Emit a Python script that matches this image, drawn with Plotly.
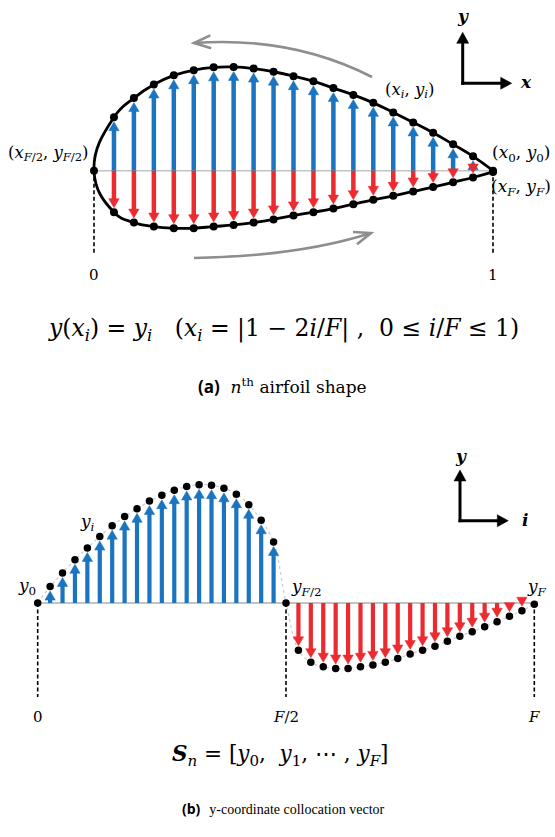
import math
import plotly.graph_objects as go

W, H = 555, 837

# ---------------- data ----------------
F = 40
i_index = list(range(F + 1))
# y-coordinates y_i of the n-th airfoil (chord units), i = 0 .. F
y_coord = [0.000, 0.036, 0.066, 0.095, 0.121, 0.146, 0.170, 0.190, 0.207, 0.224, 0.237,
           0.248, 0.256, 0.260, 0.259, 0.252, 0.239, 0.216, 0.182, 0.134, 0.000,
           -0.104, -0.130, -0.140, -0.144, -0.144, -0.140, -0.136, -0.130, -0.122, -0.112,
           -0.104, -0.095, -0.084, -0.073, -0.063, -0.052, -0.041, -0.029, -0.017, -0.003]
# x_i = |1 - 2i/F|
x_coord = [abs(1 - 2 * i / F) for i in i_index]
top_tick_vals = [0, 1]
top_tick_text = ["0", "1"]
bot_tick_vals = [0, F // 2, F]
bot_tick_text = ["0", "<i>F</i>/2", "<i>F</i>"]

# ---------------- style / layout constants ----------------
BLUE = "#1b74bf"
RED = "#ec2b30"
GRAY = "#c3c3c3"
ARROWGRAY = "#8e8e8e"
MATH = "DejaVu Serif"

# pixel geometry of the two panels
TOP_X0, TOP_SX, TOP_Y0, TOP_SY = 94.0, 399.0, 170.7, 399.0
BOT_X0, BOT_SX, BOT_Y0, BOT_SY = 37.7, 12.415, 603.0, 455.0

GAP, HEAD_L, HEAD_HW = 4.5, 9.0, 5.2   # arrow styling in pixels


def px(x):
    return x / W


def py(y):
    return 1 - y / H


def top_y(pix):
    return (TOP_Y0 - pix) / TOP_SY


def bot_y(pix):
    return (BOT_Y0 - pix) / BOT_SY


fig = go.Figure()


def add_vectors(xs, ys, sx, sy, xa, ya, color, width):
    """Arrows from the base line (y=0) toward each point, stopping short of the dot."""
    shx, shy, hx, hy = [], [], [], []
    for xv, yv in zip(xs, ys):
        sgn = 1 if yv > 0 else -1
        tip = yv - sgn * GAP / sy
        base = tip - sgn * HEAD_L / sy
        hw = HEAD_HW / sx
        if sgn * base > 0:
            shx += [xv, xv, None]
            shy += [0, base + sgn * 0.8 / sy, None]
        hx += [xv - hw, xv + hw, xv, xv - hw, None]
        hy += [base, base, tip, base, None]
    fig.add_trace(go.Scatter(x=shx, y=shy, mode="lines", line=dict(color=color, width=width),
                             xaxis=xa, yaxis=ya, hoverinfo="skip"))
    fig.add_trace(go.Scatter(x=hx, y=hy, mode="lines", fill="toself", fillcolor=color,
                             line=dict(color=color, width=0.5),
                             xaxis=xa, yaxis=ya, hoverinfo="skip"))


upper = [i for i in i_index if 0 < i < F // 2]
lower = [i for i in i_index if F // 2 < i < F]

# ---------------- panel (a) ----------------
fig.add_trace(go.Scatter(x=[x_coord[F // 2], x_coord[0]], y=[0, 0], mode="lines",
                         line=dict(color=GRAY, width=1.6), xaxis="x", yaxis="y",
                         hoverinfo="skip"))
fig.add_trace(go.Scatter(x=[x_coord[F // 2], x_coord[F // 2], None, x_coord[0], x_coord[0]],
                         y=[0, top_y(253), None, 0, top_y(253)], mode="lines",
                         line=dict(color="black", width=1.6, dash="4px,2.5px"),
                         xaxis="x", yaxis="y", hoverinfo="skip"))
add_vectors([x_coord[i] for i in upper], [y_coord[i] for i in upper],
            TOP_SX, TOP_SY, "x", "y", BLUE, 4.5)
add_vectors([x_coord[i] for i in lower], [y_coord[i] for i in lower],
            TOP_SX, TOP_SY, "x", "y", RED, 4.5)
fig.add_trace(go.Scatter(x=x_coord, y=y_coord, mode="lines",
                         line=dict(color="black", width=2.8, shape="spline", smoothing=1.3),
                         xaxis="x", yaxis="y", hoverinfo="skip"))
fig.add_trace(go.Scatter(x=x_coord, y=y_coord, mode="markers",
                         marker=dict(color="black", size=8),
                         xaxis="x", yaxis="y", hoverinfo="skip"))

# ---------------- panel (b) ----------------
fig.add_trace(go.Scatter(x=[i_index[0], i_index[-1]], y=[0, 0], mode="lines",
                         line=dict(color=GRAY, width=2), xaxis="x2", yaxis="y2",
                         hoverinfo="skip"))
fig.add_trace(go.Scatter(x=i_index, y=y_coord, mode="lines",
                         line=dict(color="#cfcfcf", width=1.3, dash="dot", shape="spline"),
                         xaxis="x2", yaxis="y2", hoverinfo="skip"))
dx, dy = [], []
for v in bot_tick_vals:
    dx += [v, v, None]
    dy += [0, bot_y(697), None]
fig.add_trace(go.Scatter(x=dx, y=dy, mode="lines",
                         line=dict(color="black", width=1.6, dash="4px,2.5px"),
                         xaxis="x2", yaxis="y2", hoverinfo="skip"))
add_vectors([i_index[i] for i in upper], [y_coord[i] for i in upper],
            BOT_SX, BOT_SY, "x2", "y2", BLUE, 4.2)
add_vectors([i_index[i] for i in lower], [y_coord[i] for i in lower],
            BOT_SX, BOT_SY, "x2", "y2", RED, 4.2)
fig.add_trace(go.Scatter(x=i_index, y=y_coord, mode="markers",
                         marker=dict(color="black", size=7.5),
                         xaxis="x2", yaxis="y2", hoverinfo="skip"))

ann = []
shapes = []


def text(s, x, y, size, family=MATH, color="black"):
    ann.append(dict(x=px(x), y=py(y), xref="paper", yref="paper", text=s, showarrow=False,
                    xanchor="center", yanchor="middle",
                    font=dict(family=family, size=size, color=color)))


# tick labels
for v, t in zip(top_tick_vals, top_tick_text):
    text(t, TOP_X0 + v * TOP_SX, 275, 15)
for v, t in zip(bot_tick_vals, bot_tick_text):
    text(t, BOT_X0 + v * BOT_SX, 717, 15)

# point labels (a)
text("(<i>x</i><sub><i>F</i>/2</sub>, <i>y</i><sub><i>F</i>/2</sub>)", 48, 153, 16.5)
text("(<i>x<sub>i</sub></i>, <i>y<sub>i</sub></i>)", 409, 90, 16.5)
text("(<i>x</i><sub>0</sub>, <i>y</i><sub>0</sub>)", 521, 153, 17)
text("(<i>x<sub>F</sub></i>, <i>y<sub>F</sub></i>)", 521, 187, 17)
# point labels (b)
text("<i>y</i><sub>0</sub>", 27, 586, 17)
text("<i>y<sub>i</sub></i>", 87, 522, 17)
text("<i>y</i><sub><i>F</i>/2</sub>", 306, 587, 17)
text("<i>y<sub>F</sub></i>", 537, 587, 17)

# coordinate icons
text("<b><i>y</i></b>", 463, 16, 17)
text("<b><i>x</i></b>", 526, 82, 17)
text("<b><i>y</i></b>", 461, 456, 17)
text("<b><i>i</i></b>", 525, 520, 17)


def icon(cx, cy, tip_y, tip_x):
    hl, hw = 11, 6
    for (x0, y0, x1, y1) in [(cx, cy + 1.5, cx, tip_y + hl - 1),
                             (cx - 1.5, cy, tip_x - hl + 1, cy)]:
        shapes.append(dict(type="line", xref="paper", yref="paper",
                           x0=px(x0), y0=py(y0), x1=px(x1), y1=py(y1),
                           line=dict(color="black", width=3)))
    up = "M {} {} L {} {} L {} {} Z".format(px(cx - hw), py(tip_y + hl), px(cx + hw),
                                            py(tip_y + hl), px(cx), py(tip_y))
    rt = "M {} {} L {} {} L {} {} Z".format(px(tip_x - hl), py(cy - hw), px(tip_x - hl),
                                            py(cy + hw), px(tip_x), py(cy))
    for p in (up, rt):
        shapes.append(dict(type="path", path=p, xref="paper", yref="paper",
                           fillcolor="black", line=dict(color="black", width=0.5)))


icon(462.7, 83.3, 32.3, 511.7)
icon(460.0, 520.7, 470.0, 508.3)

# formulas and captions
NB = "\u00a0"
text("<i>y</i>(<i>x<sub>i</sub></i>) = <i>y<sub>i</sub></i>" + NB * 3 +
     "(<i>x<sub>i</sub></i> = |1 − 2<i>i</i>/<i>F</i>| ," + NB * 2 +
     "0 ≤ <i>i</i>/<i>F</i> ≤ 1)", 283, 329, 23.5)
text("<span style='font-family:Open Sans'><b>(a)</b></span>" + NB * 2 +
     "<i>n</i><sup>th</sup> airfoil shape", 282, 386, 17)
text("<b><i>S</i></b><sub><i>n</i></sub> = [<i>y</i><sub>0</sub>," + NB * 2 +
     "<i>y</i><sub>1</sub>, ⋯ ," + NB + "<i>y<sub>F</sub></i>]", 280, 755, 21.5)
text("<span style='font-family:Open Sans'><b>(b)</b></span>" + NB * 2 +
     "<span style='font-family:Liberation Serif'>y-coordinate collocation vector</span>",
     283, 808, 14)


# curved gray arrows (flow direction around the airfoil)
def curve_arrow(p0, c, p1):
    path = "M {} {} Q {} {} {} {}".format(px(p0[0]), py(p0[1]), px(c[0]), py(c[1]),
                                          px(p1[0]), py(p1[1]))
    shapes.append(dict(type="path", path=path, xref="paper", yref="paper",
                       line=dict(color=ARROWGRAY, width=2.6)))
    ang = math.atan2(p1[1] - c[1], p1[0] - c[0])
    L, a = 18, math.radians(21)
    pts = []
    for s in (-1, 1):
        pts.append((p1[0] - L * math.cos(ang + s * a), p1[1] - L * math.sin(ang + s * a)))
    hp = "M {} {} L {} {} L {} {}".format(px(pts[0][0]), py(pts[0][1]), px(p1[0]), py(p1[1]),
                                          px(pts[1][0]), py(pts[1][1]))
    shapes.append(dict(type="path", path=hp, xref="paper", yref="paper",
                       line=dict(color=ARROWGRAY, width=2.6)))


curve_arrow((372, 77), (292, 36), (194, 43))
curve_arrow((194, 258), (300, 256), (371, 233))

fig.update_layout(
    width=W, height=H, margin=dict(l=0, r=0, t=0, b=0),
    paper_bgcolor="white", plot_bgcolor="rgba(0,0,0,0)", showlegend=False,
    xaxis=dict(domain=[0, 1], range=[-TOP_X0 / TOP_SX, (W - TOP_X0) / TOP_SX],
               visible=False, anchor="y"),
    yaxis=dict(domain=[0.5, 1], range=[(TOP_Y0 - H / 2) / TOP_SY, TOP_Y0 / TOP_SY],
               visible=False, anchor="x"),
    xaxis2=dict(domain=[0, 1], range=[-BOT_X0 / BOT_SX, (W - BOT_X0) / BOT_SX],
                visible=False, anchor="y2"),
    yaxis2=dict(domain=[0, 0.5], range=[(BOT_Y0 - H) / BOT_SY, (BOT_Y0 - H / 2) / BOT_SY],
                visible=False, anchor="x2"),
    annotations=ann, shapes=shapes,
)

fig.write_html("out.html", config={"displayModeBar": False},
               post_script="document.body.style.margin='0px';"
                           "document.body.style.overflow='hidden';")
